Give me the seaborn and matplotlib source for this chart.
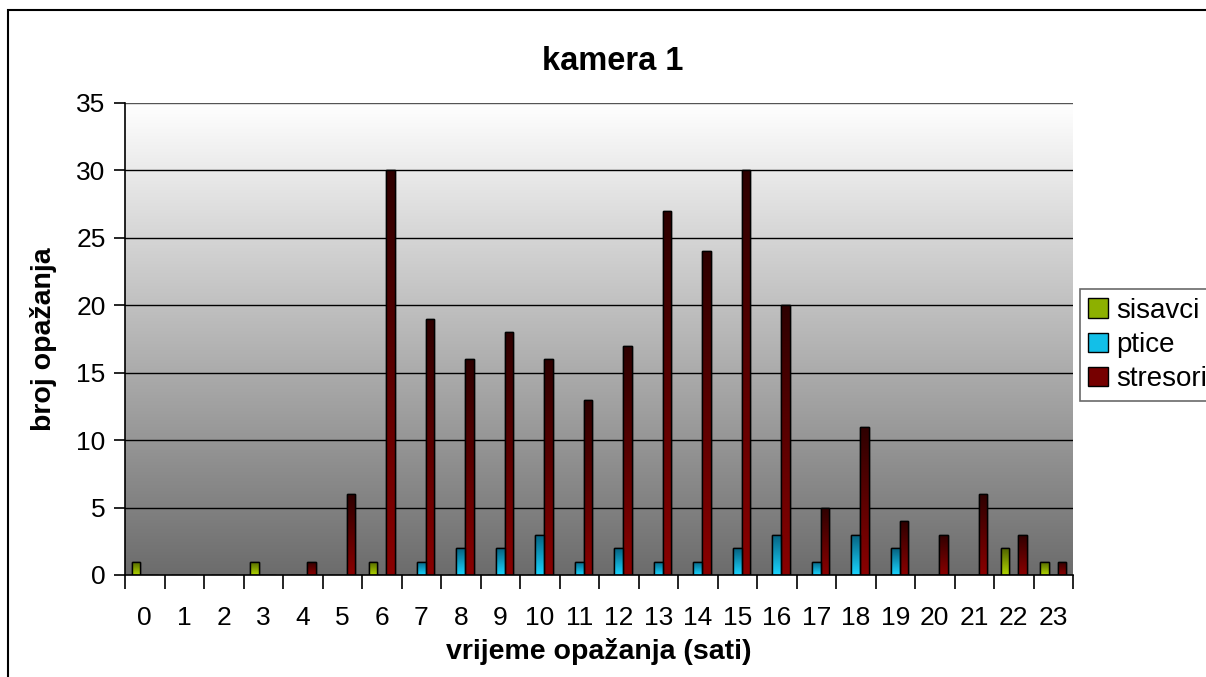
import numpy as np
import pandas as pd
import matplotlib
matplotlib.use("Agg")
import matplotlib.pyplot as plt
import matplotlib.patches as mpatches
import matplotlib.colors as mcolors
import seaborn as sns

hours = [str(h) for h in range(24)]
sisavci = [1, 0, 0, 1, 0, 0, 1, 0, 0, 0, 0, 0, 0, 0, 0, 0, 0, 0, 0, 0, 0, 0, 2, 1]
ptice = [0, 0, 0, 0, 0, 0, 0, 1, 2, 2, 3, 1, 2, 1, 1, 2, 3, 1, 3, 2, 0, 0, 0, 0]
stresori = [0, 0, 0, 0, 1, 6, 30, 19, 16, 18, 16, 13, 17, 27, 24, 30, 20, 5, 11, 4, 3, 6, 3, 1]
series_names = ["sisavci", "ptice", "stresori"]
colors = ["#8db000", "#12bfe8", "#760000"]
# gradient ends (top, bottom) per series
grad_top = ["#4f6200", "#06607e", "#2e0000"]
grad_bot = ["#b0d400", "#1ad4ff", "#8a0000"]

df = pd.DataFrame({
    "sat": hours * 3,
    "broj": sisavci + ptice + stresori,
    "kategorija": [n for n in series_names for _ in hours],
})

sns.set_style("white")
plt.rcParams["font.family"] = ["Liberation Sans", "DejaVu Sans"]
for k in ["text.color", "axes.labelcolor", "xtick.color", "ytick.color"]:
    plt.rcParams[k] = "black"

fig = plt.figure(figsize=(12.06, 6.77), dpi=100)
fig.patch.set_facecolor("white")
ax = fig.add_axes([125 / 1206, 1 - 575 / 677, (1073 - 125) / 1206, (575 - 103) / 677])

# gradient background
grad = np.linspace(0.0, 1.0, 256).reshape(-1, 1)
cmap = mcolors.LinearSegmentedColormap.from_list("g", ["#6c6c6c", "#ffffff"])
ax.imshow(grad, aspect="auto", cmap=cmap, extent=[0, 1, 0, 1],
          transform=ax.transAxes, zorder=0, origin="lower")

sns.barplot(data=df, x="sat", y="broj", hue="kategorija", order=hours,
            hue_order=series_names, palette=colors, saturation=1, width=0.66,
            edgecolor="black", linewidth=1.0, ax=ax, zorder=3, legend=False)

ax.set_xlim(-0.5, 23.5)
ax.set_ylim(0, 35)

# vertical gradient inside each bar (dark at top, bright at bottom)
cols_rgb = [mcolors.to_rgb(c) for c in colors]
for p in list(ax.patches):
    h = p.get_height()
    fc = mcolors.to_rgb(p.get_facecolor())
    idx = int(np.argmin([sum((a - b) ** 2 for a, b in zip(fc, c)) for c in cols_rgb]))
    if h <= 0:
        continue
    cm = mcolors.LinearSegmentedColormap.from_list("b", [grad_bot[idx], grad_top[idx]])
    x0 = p.get_x()
    w = p.get_width()
    im = ax.imshow(np.linspace(0, 1, 128).reshape(-1, 1), aspect="auto", cmap=cm,
                   extent=[x0, x0 + w, 0, h], origin="lower", zorder=3.2)
    im.set_clip_path(p)
    edge = mpatches.Rectangle((x0, 0), w, h, fill=False, edgecolor="black",
                              lw=1.0, zorder=3.4)
    ax.add_patch(edge)

ax.set_xlim(-0.5, 23.5)
ax.set_ylim(0, 35)
ax.set_yticks(range(0, 36, 5))
for y in range(5, 36, 5):
    ax.axhline(y, color="black" if y < 35 else "#555555", lw=1.0, zorder=1)

ax.set_xticks(range(24))
ax.set_xticklabels(hours)
ax.set_xticks(np.arange(-0.5, 24, 1), minor=True)
ax.tick_params(axis="x", which="major", length=0, pad=22, labelsize=19)
ax.tick_params(axis="x", which="minor", length=10, width=1.2, direction="out", color="black", bottom=True)
ax.tick_params(axis="y", which="major", length=8, width=1.2, direction="out", color="black", left=True, labelsize=19, pad=6)

for s in ["top", "right"]:
    ax.spines[s].set_visible(False)
for s in ["left", "bottom"]:
    ax.spines[s].set_color("black")
    ax.spines[s].set_linewidth(1.2)
    ax.spines[s].set_zorder(5)

ax.set_xlabel("vrijeme opažanja (sati)", fontsize=20.5, fontweight="bold", labelpad=6)
ax.set_ylabel("broj opažanja", fontsize=20.5, fontweight="bold", labelpad=14)
fig.text(613 / 1206, 1 - 61 / 677, "kamera 1", fontsize=23.5, fontweight="bold",
         ha="center", va="center")

handles = [mpatches.Patch(facecolor=c, edgecolor="black", lw=1.0) for c in colors]
leg = fig.legend(handles, series_names, loc="center left", bbox_to_anchor=(1080 / 1206, 1 - 345 / 677),
                 fontsize=20, frameon=True, fancybox=False, edgecolor="#444444",
                 handlelength=0.7, handleheight=0.7, handletextpad=0.3, borderpad=0.3,
                 labelspacing=0.3, borderaxespad=0)
leg.get_frame().set_linewidth(1.2)

fig.patches.append(mpatches.Rectangle((8 / 1206, -0.1), 1.2, (677 - 10) / 677 + 0.1,
                                      transform=fig.transFigure, fill=False,
                                      edgecolor="black", lw=1.5, figure=fig))

fig.savefig("out.png", dpi=100, facecolor="white")
